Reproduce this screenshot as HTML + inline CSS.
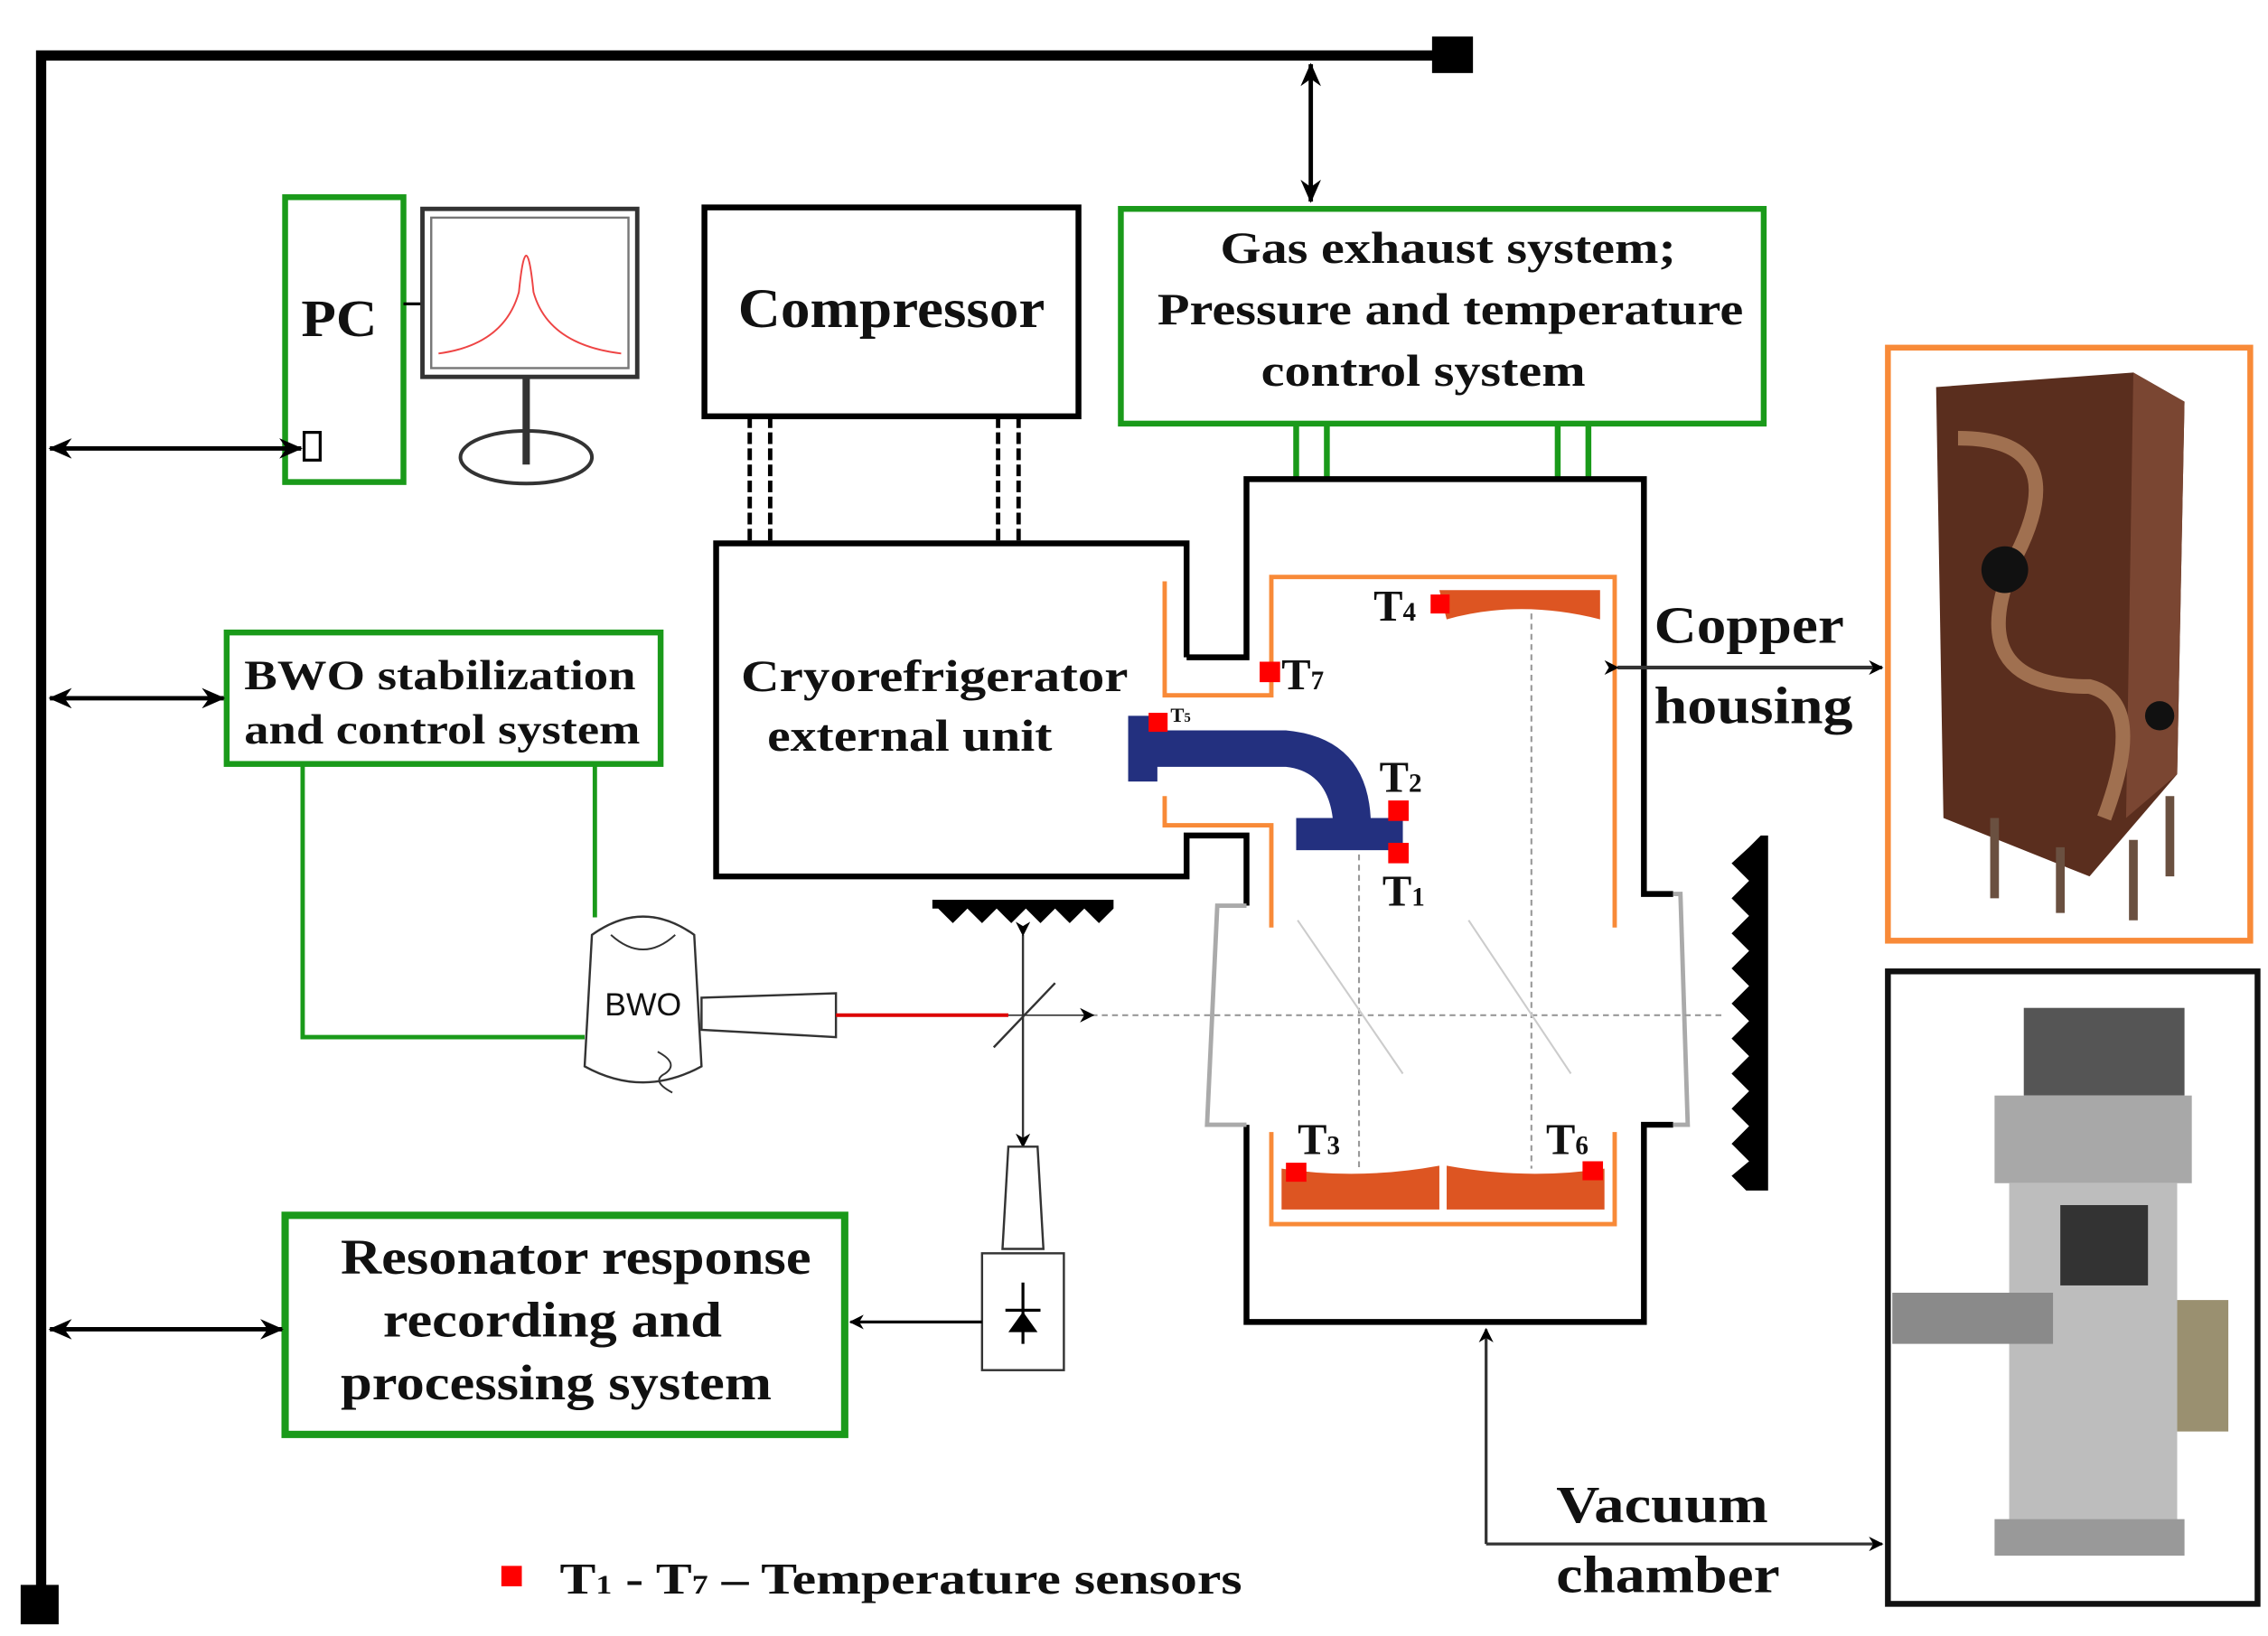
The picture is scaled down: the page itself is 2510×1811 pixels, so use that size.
<!DOCTYPE html>
<html><head><meta charset="utf-8"><style>
html,body{margin:0;padding:0;background:#fff}
svg{display:block}
text{font-family:"Liberation Serif",serif;font-weight:bold;fill:#111}
</style></head><body>
<svg width="2510" height="1811" viewBox="0 0 1552 1120" xmlns="http://www.w3.org/2000/svg">
<defs>
<marker id="ah" markerWidth="10" markerHeight="10" refX="9" refY="5" orient="auto" markerUnits="userSpaceOnUse"><path d="M0,0 L10,5 L0,10 L3,5 Z" fill="#000"/></marker>
<marker id="ah2" markerWidth="16" markerHeight="14" refX="15" refY="7" orient="auto-start-reverse" markerUnits="userSpaceOnUse"><path d="M0,0 L16,7 L0,14 L5,7 Z" fill="#000"/></marker>
</defs>
<rect width="1552" height="1120" fill="#fff"/>
<polyline points="995,38 28,38 28,1095" fill="none" stroke="#000" stroke-width="7"/>
<rect x="980" y="25" width="28" height="25" fill="#000"/>
<rect x="14" y="1085" width="26" height="27" fill="#000"/>
<line x1="897" y1="44" x2="897" y2="138" stroke="#000" stroke-width="3" marker-start="url(#ah2)" marker-end="url(#ah2)"/>
<rect x="195" y="135" width="81" height="195" fill="none" stroke="#1a9a1a" stroke-width="4"/>
<text x="206" y="230" font-size="36" textLength="52" lengthAdjust="spacingAndGlyphs">PC</text>
<rect x="208" y="296" width="11" height="19" fill="#fff" stroke="#000" stroke-width="2"/>
<line x1="34" y1="307" x2="206" y2="307" stroke="#000" stroke-width="3" marker-start="url(#ah2)" marker-end="url(#ah2)"/>
<line x1="276" y1="208" x2="290" y2="208" stroke="#000" stroke-width="2"/>
<rect x="289" y="143" width="147" height="115" fill="#fff" stroke="#333" stroke-width="3"/>
<rect x="295" y="149" width="135" height="103" fill="#fff" stroke="#777" stroke-width="1.5"/>
<path d="M300,242 Q345,236 355,200 Q360,150 365,200 Q375,236 425,242" fill="none" stroke="#e44" stroke-width="1.2"/>
<line x1="360" y1="258" x2="360" y2="318" stroke="#333" stroke-width="5"/>
<ellipse cx="360" cy="313" rx="45" ry="18" fill="none" stroke="#333" stroke-width="2.5"/>
<rect x="482" y="142" width="256" height="143" fill="none" stroke="#000" stroke-width="4"/>
<text x="505" y="224" font-size="38" textLength="210" lengthAdjust="spacingAndGlyphs">Compressor</text>
<g stroke="#000" stroke-width="3" stroke-dasharray="8,3">
<line x1="513" y1="285" x2="513" y2="372"/><line x1="527" y1="285" x2="527" y2="372"/>
<line x1="683" y1="285" x2="683" y2="372"/><line x1="697" y1="285" x2="697" y2="372"/>
</g>
<rect x="767" y="143" width="440" height="147" fill="none" stroke="#1a9a1a" stroke-width="4"/>
<text x="835" y="180" font-size="31" textLength="312" lengthAdjust="spacingAndGlyphs">Gas exhaust system;</text>
<text x="792" y="222" font-size="31" textLength="401" lengthAdjust="spacingAndGlyphs">Pressure and temperature</text>
<text x="863" y="264" font-size="31" textLength="222" lengthAdjust="spacingAndGlyphs">control system</text>
<g stroke="#1a9a1a" stroke-width="4">
<line x1="887" y1="290" x2="887" y2="328"/><line x1="908" y1="290" x2="908" y2="328"/>
<line x1="1066" y1="290" x2="1066" y2="328"/><line x1="1087" y1="290" x2="1087" y2="328"/>
</g>
<polyline points="812,450 812,372 490,372 490,600 812,600 812,572 853,572 853,620" fill="none" stroke="#000" stroke-width="4"/>
<polyline points="812,450 853,450 853,328 1125,328 1125,612 1145,612" fill="none" stroke="#000" stroke-width="4"/>
<polyline points="853,770 853,905 1125,905 1125,770 1145,770" fill="none" stroke="#000" stroke-width="4"/>
<text x="507" y="473" font-size="31" textLength="265" lengthAdjust="spacingAndGlyphs">Cryorefrigerator</text>
<text x="525" y="514" font-size="31" textLength="195" lengthAdjust="spacingAndGlyphs">external unit</text>
<g stroke="#aaa" stroke-width="3" fill="none">
<polyline points="853,620 833,620 826,770 853,770"/>
<polyline points="1145,612 1150,612 1155,770 1145,770"/>
</g>
<g stroke="#f88a38" stroke-width="3" fill="none">
<polyline points="797,398 797,476 870,476 870,395 1105,395 1105,635"/>
<polyline points="797,545 797,565 870,565 870,635"/>
<polyline points="870,775 870,838 1105,838 1105,775"/>
</g>
<path d="M985,404 L1095,404 L1095,424 Q1040,410 990,424 Z" fill="#dd5522"/>
<path d="M877,800 Q930,808 985,798 L985,828 L877,828 Z" fill="#dd5522"/>
<path d="M990,798 Q1045,808 1098,800 L1098,828 L990,828 Z" fill="#dd5522"/>
<g stroke="#999" stroke-width="1.3" stroke-dasharray="4,3" fill="none">
<line x1="930" y1="585" x2="930" y2="800"/>
<line x1="1048" y1="420" x2="1048" y2="800"/>
<line x1="740" y1="695" x2="1178" y2="695"/>
</g>
<g stroke="#ccc" stroke-width="1.3"><line x1="888" y1="630" x2="960" y2="735"/><line x1="1005" y1="630" x2="1075" y2="735"/></g>
<path d="M772,490 L792,490 L792,500 L880,500 Q935,505 938,560 L960,560 L960,582 L887,582 L887,560 L912,560 Q908,528 880,525 L792,525 L792,535 L772,535 Z" fill="#23307f"/>
<g fill="#f00">
<rect x="862" y="453" width="14" height="14"/><rect x="786" y="488" width="13" height="13"/>
<rect x="979" y="407" width="13" height="13"/><rect x="950" y="548" width="14" height="14"/>
<rect x="950" y="577" width="14" height="14"/><rect x="880" y="796" width="14" height="13"/>
<rect x="1083" y="795" width="14" height="13"/><rect x="343" y="1072" width="14" height="14"/>
</g>
<g font-size="30">
<text x="940" y="425">T<tspan font-size="18">4</tspan></text>
<text x="877" y="472">T<tspan font-size="18">7</tspan></text>
<text x="801" y="494" font-size="14">T<tspan font-size="9">5</tspan></text>
<text x="944" y="542">T<tspan font-size="18">2</tspan></text>
<text x="946" y="620">T<tspan font-size="18">1</tspan></text>
<text x="888" y="790">T<tspan font-size="18">3</tspan></text>
<text x="1058" y="790">T<tspan font-size="18">6</tspan></text>
</g>
<text x="1132" y="440" font-size="36" textLength="130" lengthAdjust="spacingAndGlyphs">Copper</text>
<text x="1132" y="495" font-size="36" textLength="136" lengthAdjust="spacingAndGlyphs">housing</text>
<line x1="1107" y1="457" x2="1288" y2="457" stroke="#333" stroke-width="2.5" marker-start="url(#ah)" marker-end="url(#ah)"/>
<rect x="1292" y="238" width="248" height="406" fill="#fff" stroke="#f88a38" stroke-width="4"/>
<path d="M1325,265 L1460,255 L1495,275 L1490,530 L1430,600 L1330,560 Z" fill="#5a2e1e"/>
<path d="M1460,255 L1495,275 L1490,530 L1455,560 Z" fill="#7a4632"/>
<path d="M1340,300 Q1420,300 1380,380 Q1340,470 1430,470 Q1470,480 1440,560" fill="none" stroke="#a07050" stroke-width="10"/>
<circle cx="1372" cy="390" r="16" fill="#111"/><circle cx="1478" cy="490" r="10" fill="#111"/>
<g stroke="#6a5040" stroke-width="6"><line x1="1365" y1="560" x2="1365" y2="615"/><line x1="1410" y1="580" x2="1410" y2="625"/><line x1="1460" y1="575" x2="1460" y2="630"/><line x1="1485" y1="545" x2="1485" y2="600"/></g>
<rect x="1292" y="665" width="253" height="433" fill="#fff" stroke="#111" stroke-width="4"/>
<rect x="1385" y="690" width="110" height="60" fill="#555"/>
<rect x="1365" y="750" width="135" height="60" fill="#a8a8a8"/>
<rect x="1375" y="810" width="115" height="240" fill="#bdbdbd"/>
<rect x="1410" y="825" width="60" height="55" fill="#333"/>
<rect x="1295" y="885" width="110" height="35" fill="#8a8a8a"/>
<rect x="1490" y="890" width="35" height="90" fill="#9a9070"/>
<rect x="1365" y="1040" width="130" height="25" fill="#999"/>
<text x="1065" y="1042" font-size="36" textLength="145" lengthAdjust="spacingAndGlyphs">Vacuum</text>
<text x="1065" y="1090" font-size="36" textLength="153" lengthAdjust="spacingAndGlyphs">chamber</text>
<polyline points="1017,1057 1288,1057" fill="none" stroke="#333" stroke-width="2" marker-end="url(#ah)"/>
<line x1="1017" y1="1057" x2="1017" y2="910" stroke="#333" stroke-width="2" marker-end="url(#ah)"/>
<path d="M1205,572 L1210,572 L1210,815 L1195,815 L1185,805 L1197,795 L1185,783 L1197,771 L1185,759 L1197,747 L1185,735 L1197,723 L1185,711 L1197,699 L1185,687 L1197,675 L1185,663 L1197,651 L1185,639 L1197,627 L1185,615 L1197,603 L1185,591 L1197,580 Z" fill="#000"/>
<rect x="155" y="433" width="297" height="90" fill="none" stroke="#1a9a1a" stroke-width="4"/>
<text x="167" y="472" font-size="29" textLength="268" lengthAdjust="spacingAndGlyphs">BWO stabilization</text>
<text x="167" y="509" font-size="29" textLength="271" lengthAdjust="spacingAndGlyphs">and control system</text>
<line x1="34" y1="478" x2="153" y2="478" stroke="#000" stroke-width="3" marker-start="url(#ah2)" marker-end="url(#ah2)"/>
<polyline points="207,523 207,710 400,710" fill="none" stroke="#1a9a1a" stroke-width="3"/>
<line x1="407" y1="523" x2="407" y2="628" stroke="#1a9a1a" stroke-width="3"/>
<path d="M405,640 Q440,615 475,640 L480,730 Q440,752 400,730 Z" fill="#fff" stroke="#333" stroke-width="1.5"/>
<path d="M418,640 Q440,660 462,640" fill="none" stroke="#333" stroke-width="1.2"/>
<path d="M450,720 Q465,728 455,735 Q445,740 460,748" fill="none" stroke="#333" stroke-width="1.2"/>
<text x="440" y="695" text-anchor="middle" style="font-family:'Liberation Sans',sans-serif;font-weight:normal;font-size:22px">BWO</text>
<path d="M480,683 L480,705 L572,710 L572,680 Z" fill="#fff" stroke="#333" stroke-width="1.5"/>
<line x1="572" y1="695" x2="690" y2="695" stroke="#d00" stroke-width="2.5"/>
<line x1="680" y1="717" x2="722" y2="673" stroke="#333" stroke-width="1.5"/>
<line x1="690" y1="695" x2="748" y2="695" stroke="#333" stroke-width="1" marker-end="url(#ah)"/>
<line x1="700" y1="640" x2="700" y2="785" stroke="#333" stroke-width="1.5" marker-start="url(#ah)" marker-end="url(#ah)"/>
<path d="M638,616 L762,616 L762,622 L752,632 L742,622 L732,632 L722,622 L712,632 L702,622 L692,632 L682,622 L672,632 L662,622 L652,632 L642,622 L638,622 Z" fill="#000"/>
<path d="M690,785 L710,785 L714,855 L686,855 Z" fill="#fff" stroke="#333" stroke-width="1.5"/>
<rect x="672" y="858" width="56" height="80" fill="#fff" stroke="#333" stroke-width="1.5"/>
<line x1="700" y1="878" x2="700" y2="920" stroke="#000" stroke-width="2"/>
<line x1="688" y1="897" x2="712" y2="897" stroke="#000" stroke-width="2"/>
<path d="M690,912 L710,912 L700,898 Z" fill="#000"/>
<line x1="672" y1="905" x2="582" y2="905" stroke="#000" stroke-width="2" marker-end="url(#ah)"/>
<rect x="195" y="832" width="383" height="150" fill="none" stroke="#1a9a1a" stroke-width="5"/>
<text x="233" y="872" font-size="34" textLength="322" lengthAdjust="spacingAndGlyphs">Resonator response</text>
<text x="262" y="915" font-size="34" textLength="232" lengthAdjust="spacingAndGlyphs">recording and</text>
<text x="233" y="958" font-size="34" textLength="295" lengthAdjust="spacingAndGlyphs">processing system</text>
<line x1="34" y1="910" x2="193" y2="910" stroke="#000" stroke-width="3" marker-start="url(#ah2)" marker-end="url(#ah2)"/>
<text x="383" y="1091" font-size="30" textLength="467" lengthAdjust="spacingAndGlyphs">T<tspan font-size="18">1</tspan> - T<tspan font-size="18">7</tspan> – Temperature sensors</text>
</svg>
</body></html>
